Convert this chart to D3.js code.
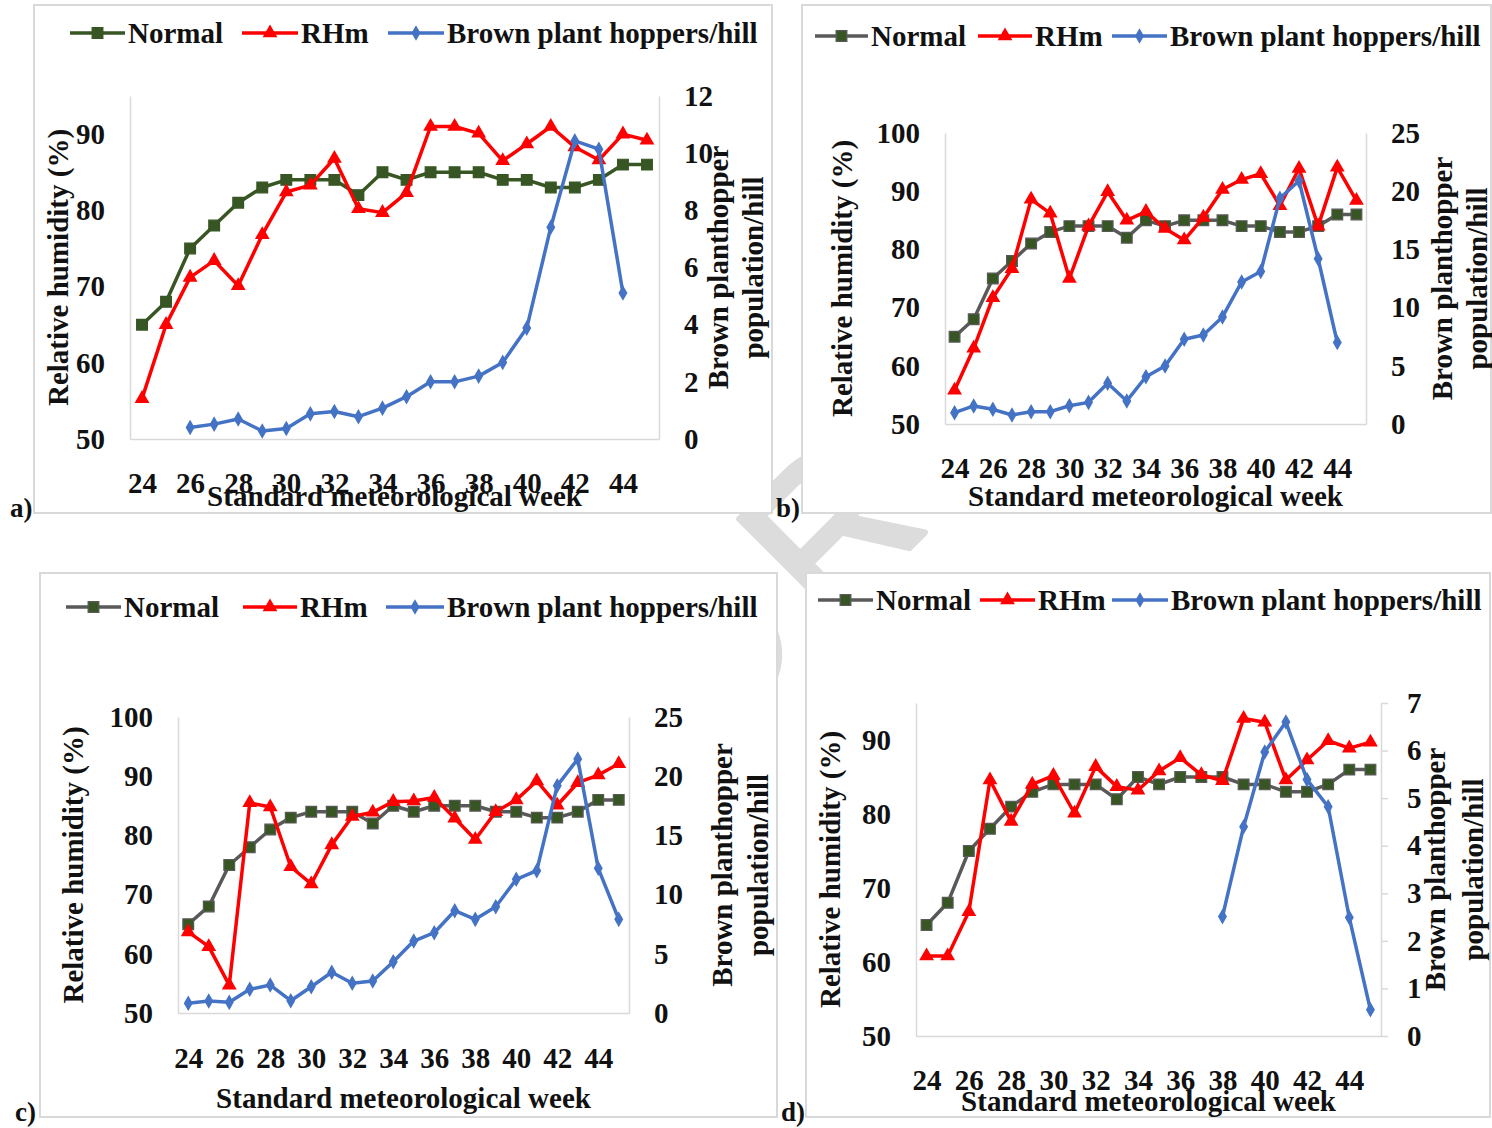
<!DOCTYPE html>
<html>
<head>
  <title>Relative humidity and brown planthopper</title>
  <style>
    body { margin: 0; background: #fff; }
    text { font-family: "Liberation Serif", "Times New Roman", serif; font-weight: bold; fill: #111; }
    .wm { font-family: "Liberation Sans", Arial, sans-serif; font-weight: normal; }
  </style>
</head>
<body>
  <script src="https://d3js.org/d3.v7.min.js"></script>
  <script>
    // Standard meteorological weeks (categories)
    const weeks = [24, 25, 26, 27, 28, 29, 30, 31, 32, 33, 34, 35, 36, 37, 38, 39, 40, 41, 42, 43, 44, 45];
    const weekTicks = [24, 26, 28, 30, 32, 34, 36, 38, 40, 42, 44];

    // Normal relative humidity (same in all panels)
    const normalRH = [65, 68, 75, 78, 81, 83, 84, 84, 84, 82, 85, 84, 85, 85, 85, 84, 84, 83, 83, 84, 86, 86];

    // RHm per panel
    const rhA = [55.3, 65, 71.2, 73.4, 70.1, 76.8, 82.4, 83.3, 86.8, 80.2, 79.7, 82.3, 91, 91, 90.1, 86.5, 88.7, 91, 88.3, 86.6, 90, 89.2];
    const rhB = [55.8, 63, 71.7, 76.7, 88.6, 86.2, 75, 84, 89.9, 85, 86.5, 83.6, 81.6, 85.5, 90.3, 92, 93, 87.5, 93.9, 84, 94.1, 88.4];
    const rhC = [63.7, 61.2, 54.7, 85.5, 84.8, 74.7, 71.8, 78.4, 83.2, 83.9, 85.7, 85.8, 86.4, 82.9, 79.3, 84, 86, 89.2, 85.1, 88.9, 90.2, 92.1];
    const rhD = [60.8, 60.8, 66.8, 84.6, 79, 84, 85.2, 80.1, 86.4, 83.7, 83.2, 85.8, 87.6, 85.3, 84.5, 92.9, 92.4, 84.6, 87.3, 89.9, 88.9, 89.7];

    // Brown plant hoppers per hill per panel (null = no observation)
    const bphA = [null, null, 0.4, 0.52, 0.7, 0.28, 0.37, 0.88, 0.96, 0.78, 1.08, 1.48, 2.0, 2.0, 2.2, 2.68, 3.88, 7.41, 10.43, 10.14, 5.11, null];
    const bphB = [0.97, 1.55, 1.26, 0.77, 1.06, 1.06, 1.57, 1.86, 3.5, 1.98, 4.06, 4.98, 7.28, 7.65, 9.2, 12.2, 13.1, 19.4, 20.9, 14.2, 7.0, null];
    const bphC = [0.82, 1.01, 0.9, 2.0, 2.36, 1.04, 2.22, 3.44, 2.51, 2.7, 4.33, 6.08, 6.78, 8.64, 7.91, 8.98, 11.29, 12.02, 19.2, 21.45, 12.22, 7.91];
    const bphD = [null, null, null, null, null, null, null, null, null, null, null, null, null, null, 2.51, 4.4, 5.97, 6.6, 5.39, 4.82, 2.49, 0.55];

    // Axis ticks
    const rhTicks95 = [50, 60, 70, 80, 90];
    const rhTicks100 = [50, 60, 70, 80, 90, 100];
    const bphTicksA = [0, 2, 4, 6, 8, 10, 12];
    const bphTicks25 = [0, 5, 10, 15, 20, 25];
    const bphTicksD = [0, 1, 2, 3, 4, 5, 6, 7];

    const legendNames = ["Normal", "RHm", "Brown plant hoppers/hill"];

    const GREEN = "#375623", GREY = "#595959", RED = "#ff0000", BLUE = "#4472c4", AXIS = "#d9d9d9";

    const svg = d3.select("body").append("svg")
      .attr("width", 1492)
      .attr("height", 1128);

    // faint watermark behind the panels
    const wm = svg.append("g").attr("transform", "translate(800,530) rotate(-45)");
    const wmText = wm.append("text")
      .attr("class", "wm")
      .attr("x", 0)
      .attr("y", 90)
      .attr("font-size", 205)
      .attr("letter-spacing", 30)
      .style("fill", "#dcdcdc")
      .style("stroke", "#dcdcdc")
      .style("stroke-width", 6)
      .style("stroke-linejoin", "round")
      .text("SCRIPT");
    const rStart = wmText.node().getStartPositionOfChar(2).x;
    wmText.attr("x", -52 - rStart);

    const panels = [
      { box: [34, 5, 772, 513], left: 130, right: 659, top: 96, bottom: 439,
        rhDomain: [50, 95], rhTicks: rhTicks95, bphDomain: [0, 12], bphTicks: bphTicksA,
        normalLine: GREEN, rh: rhA, bph: bphA, rightTick: 0,
        ylabX: 58, y2labX: [718, 753], xTickY: 483, xTitleY: 496,
        legendY: 33, legend: [[70, 128], [242, 301], [388, 447]],
        tag: "a)", tagX: 10, tagY: 517 },
      { box: [802, 5, 1491, 513], left: 945, right: 1366, top: 133, bottom: 424,
        rhDomain: [50, 100], rhTicks: rhTicks100, bphDomain: [0, 25], bphTicks: bphTicks25,
        normalLine: GREY, rh: rhB, bph: bphB, rightTick: 0,
        ylabX: 842, y2labX: [1442, 1477], xTickY: 468, xTitleY: 496,
        legendY: 36, legend: [[815, 871], [978, 1035], [1112, 1170]],
        tag: "b)", tagX: 776, tagY: 517 },
      { box: [40, 573, 777, 1117], left: 178, right: 629, top: 717, bottom: 1013,
        rhDomain: [50, 100], rhTicks: rhTicks100, bphDomain: [0, 25], bphTicks: bphTicks25,
        normalLine: GREY, rh: rhC, bph: bphC, rightTick: 0,
        ylabX: 73, y2labX: [722, 758], xTickY: 1058, xTitleY: 1098,
        legendY: 607, legend: [[66, 124], [243, 300], [386, 447]],
        tag: "c)", tagX: 15, tagY: 1121 },
      { box: [806, 573, 1490, 1117], left: 916, right: 1381, top: 703, bottom: 1036,
        rhDomain: [50, 95], rhTicks: rhTicks95, bphDomain: [0, 7], bphTicks: bphTicksD,
        normalLine: GREY, rh: rhD, bph: bphD, rightTick: 7,
        ylabX: 830, y2labX: [1435, 1473], xTickY: 1080, xTitleY: 1101,
        legendY: 600, legend: [[818, 876], [980, 1038], [1112, 1171]],
        tag: "d)", tagX: 781, tagY: 1121 }
    ];

    const square = d3.symbol().type(d3.symbolSquare).size(115);
    const triangle = d3.symbol().type(d3.symbolTriangle).size(95);
    const diamond = d3.symbol().type(d3.symbolDiamond).size(70);
    const intFmt = d3.format("d");

    panels.forEach(drawPanel);

    function drawPanel(p) {
      const g = svg.append("g");
      const [bx0, by0, bx1, by1] = p.box;

      g.append("rect")
        .attr("x", bx0).attr("y", by0)
        .attr("width", bx1 - bx0).attr("height", by1 - by0)
        .attr("fill", "#fff")
        .attr("stroke", AXIS)
        .attr("stroke-width", 2);

      const x = d3.scalePoint().domain(weeks).range([p.left, p.right]).padding(0.5);
      const yL = d3.scaleLinear().domain(p.rhDomain).range([p.bottom, p.top]);
      const yR = d3.scaleLinear().domain(p.bphDomain).range([p.bottom, p.top]);

      // axes
      const gx = g.append("g")
        .attr("transform", `translate(0,${p.bottom})`)
        .call(d3.axisBottom(x).tickValues(weekTicks).tickSize(0).tickSizeOuter(0));
      gx.selectAll("text").attr("y", p.xTickY - p.bottom).attr("dy", "0.35em");

      const gl = g.append("g")
        .attr("transform", `translate(${p.left},0)`)
        .call(d3.axisLeft(yL).tickValues(p.rhTicks).tickFormat(intFmt)
          .tickSize(0).tickSizeOuter(0).tickPadding(25));

      const gr = g.append("g")
        .attr("transform", `translate(${p.right},0)`)
        .call(d3.axisRight(yR).tickValues(p.bphTicks).tickFormat(intFmt)
          .tickSize(p.rightTick).tickSizeOuter(0)
          .tickPadding(25 - p.rightTick + (p.rightTick ? 1 : 0)));

      [gx, gl, gr].forEach(a => {
        a.select(".domain").attr("stroke", AXIS).attr("stroke-width", 1.5);
        a.selectAll(".tick line").attr("stroke", AXIS).attr("stroke-width", 1.5);
        a.selectAll("text").attr("font-size", 29).attr("fill", "#111");
      });

      // axis titles
      const cx = (p.left + p.right) / 2;
      const cy = (p.top + p.bottom) / 2;
      g.append("text")
        .attr("x", cx).attr("y", p.xTitleY).attr("dy", "0.35em")
        .attr("text-anchor", "middle").attr("font-size", 29)
        .text("Standard meteorological week");

      g.append("text")
        .attr("transform", `translate(${p.ylabX},${cy}) rotate(-90)`)
        .attr("dy", "0.35em")
        .attr("text-anchor", "middle").attr("font-size", 29)
        .text("Relative humidity (%)");

      ["Brown planthopper", "population/hill"].forEach((t, i) => {
        g.append("text")
          .attr("transform", `translate(${p.y2labX[i]},${cy}) rotate(-90)`)
          .attr("dy", "0.35em")
          .attr("text-anchor", "middle").attr("font-size", 29)
          .text(t);
      });

      // series
      const lineL = d3.line().defined(d => d[1] != null).x(d => x(d[0])).y(d => yL(d[1]));
      const lineR = d3.line().defined(d => d[1] != null).x(d => x(d[0])).y(d => yR(d[1]));

      const normalPts = weeks.map((w, i) => [w, normalRH[i]]);
      const rhPts = weeks.map((w, i) => [w, p.rh[i]]);
      const bphPts = weeks.map((w, i) => [w, p.bph[i]]);

      g.append("path").datum(normalPts)
        .attr("d", lineL).attr("fill", "none")
        .attr("stroke", p.normalLine).attr("stroke-width", 3.5).attr("stroke-linejoin", "round");
      g.selectAll(".sq").data(normalPts).enter().append("path")
        .attr("transform", d => `translate(${x(d[0])},${yL(d[1])})`)
        .attr("d", square)
        .attr("fill", GREEN)
        .attr("stroke", p.normalLine).attr("stroke-width", 1.2);

      g.append("path").datum(rhPts)
        .attr("d", lineL).attr("fill", "none")
        .attr("stroke", RED).attr("stroke-width", 3.5).attr("stroke-linejoin", "round");
      g.selectAll(".tri").data(rhPts).enter().append("path")
        .attr("transform", d => `translate(${x(d[0])},${yL(d[1])})`)
        .attr("d", triangle)
        .attr("fill", RED);

      g.append("path").datum(bphPts)
        .attr("d", lineR).attr("fill", "none")
        .attr("stroke", BLUE).attr("stroke-width", 3.5).attr("stroke-linejoin", "round");
      g.selectAll(".dia").data(bphPts.filter(d => d[1] != null)).enter().append("path")
        .attr("transform", d => `translate(${x(d[0])},${yR(d[1])})`)
        .attr("d", diamond)
        .attr("fill", BLUE);

      // legend
      const lineCols = [p.normalLine, RED, BLUE];
      const markers = [square, triangle, diamond];
      const markFill = [GREEN, RED, BLUE];
      p.legend.forEach(([lx, tx], i) => {
        g.append("line")
          .attr("x1", lx).attr("x2", tx - 3)
          .attr("y1", p.legendY).attr("y2", p.legendY)
          .attr("stroke", lineCols[i]).attr("stroke-width", 3.5);
        g.append("path")
          .attr("transform", `translate(${(lx + tx - 3) / 2},${p.legendY})`)
          .attr("d", markers[i])
          .attr("fill", markFill[i])
          .attr("stroke", i === 0 ? p.normalLine : "none").attr("stroke-width", 1.2);
        g.append("text")
          .attr("x", tx).attr("y", p.legendY).attr("dy", "0.35em")
          .attr("font-size", 29)
          .text(legendNames[i]);
      });

      // panel tag
      svg.append("text")
        .attr("x", p.tagX).attr("y", p.tagY)
        .attr("font-size", 27)
        .text(p.tag);
    }
  </script>
</body>
</html>
